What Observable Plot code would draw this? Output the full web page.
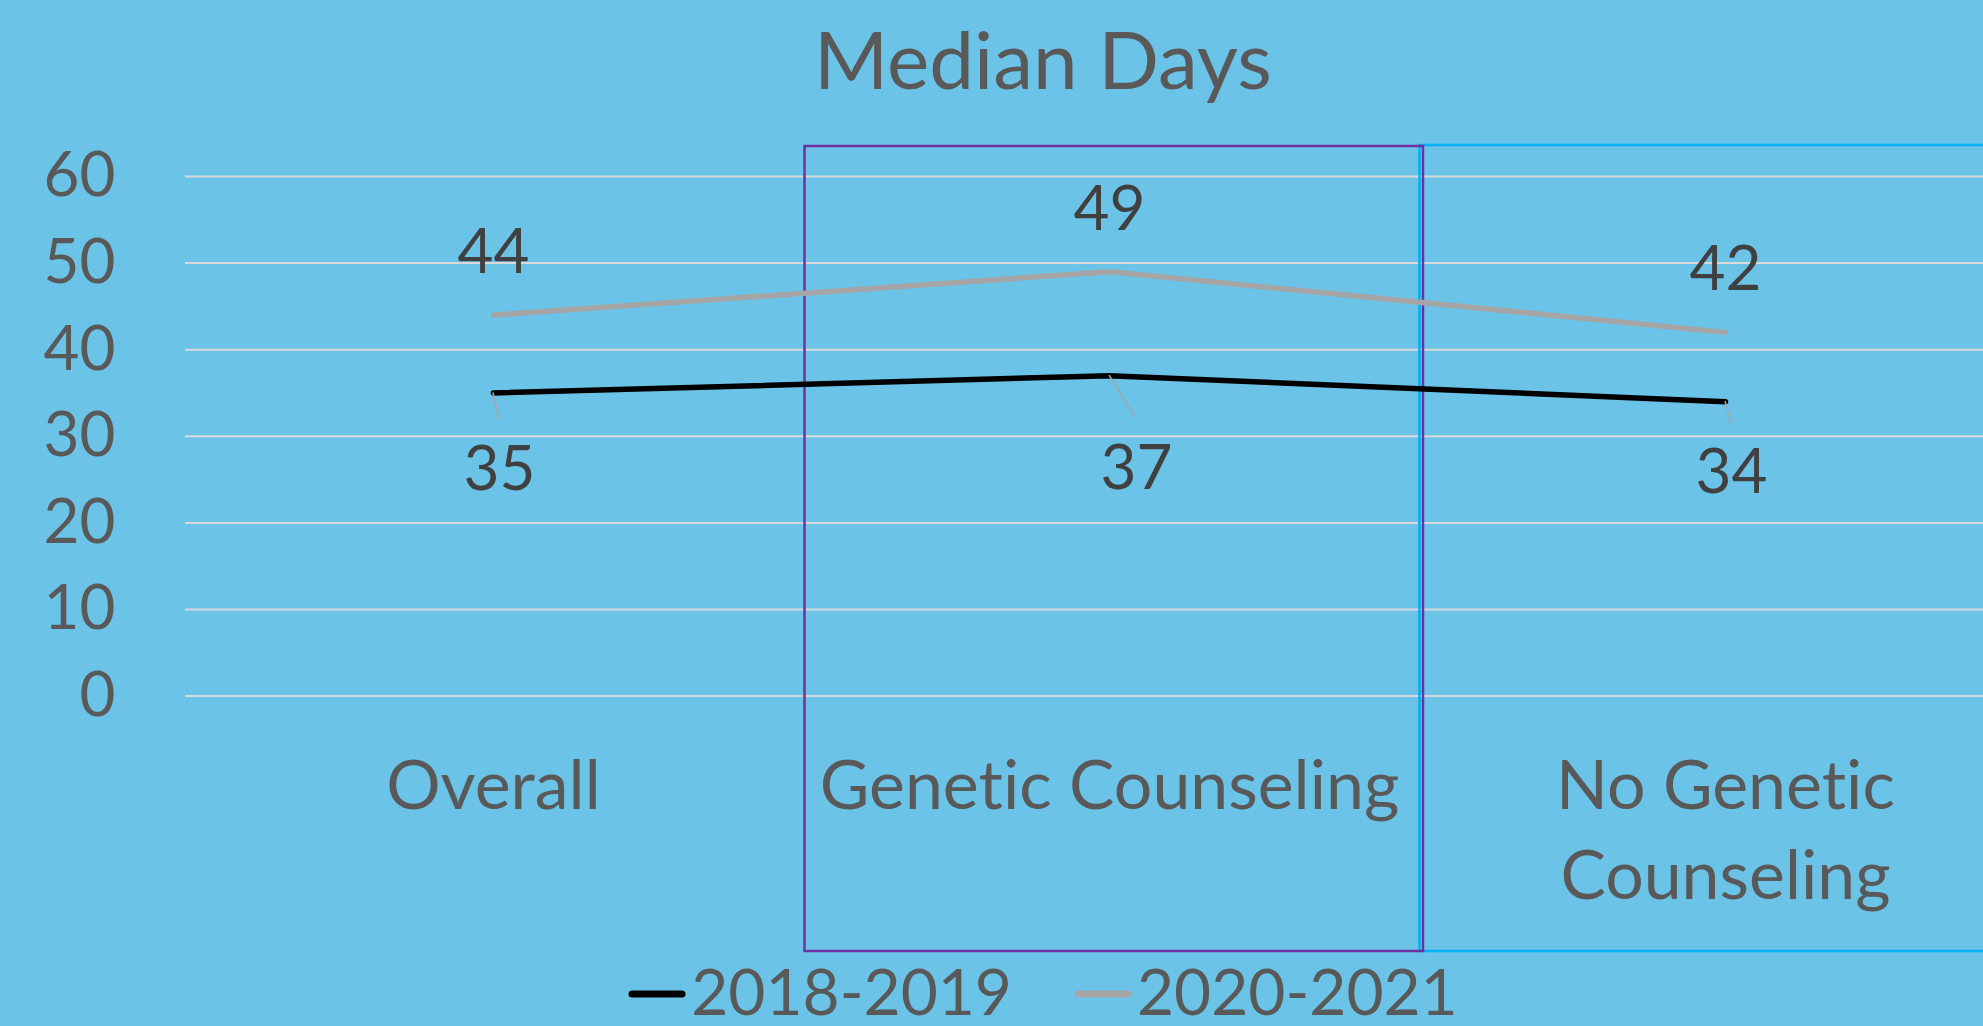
<!DOCTYPE html>
<html>
<head>
<meta charset="utf-8">
<script src="https://cdn.jsdelivr.net/npm/d3@7"></script>
<script src="https://cdn.jsdelivr.net/npm/@observablehq/plot@0.6"></script>
<style>
  html, body { margin: 0; padding: 0; background: #6BC4E8; overflow: hidden; width: 1983px; height: 1026px; }
  #chart { width: 2086px; position: relative; font-family: Lato, "Open Sans", sans-serif; font-variant-ligatures: none; }
  #title { height: 130px; box-sizing: border-box; padding-top: 18px; text-align: center; font-size: 80px; line-height: 80px; font-weight: 400; color: #595959; }
  #plot svg { display: block; overflow: visible; }
  #plot text { font-variant-ligatures: none; }
  #legend { height: 71px; display: flex; justify-content: center; align-items: center; font-size: 64px; line-height: 64px; color: #595959; }
  .item { display: flex; align-items: center; }
  .item svg { display: block; margin-top: 6px; }
  .gap { width: 62px; }
</style>
</head>
<body>
<div id="chart">
  <div id="title">Median Days</div>
  <div id="plot"></div>
  <div id="legend"></div>
</div>
<script>
// ---- data ----
const categories = ["Overall", "Genetic Counseling", "No Genetic Counseling"];
const categoryLabels = ["Overall", "Genetic Counseling", "No Genetic\nCounseling"];
const seriesNames = ["2018-2019", "2020-2021"];
const values2018 = [35, 37, 34];
const values2020 = [44, 49, 42];
const seriesColors = ["#000000", "#A5A5A5"];
const yTicks = [0, 10, 20, 30, 40, 50, 60];
const highlightCategories = ["Genetic Counseling", "No Genetic Counseling"];
const highlightColors = ["#7030A0", "#00B0F0"];

// ---- derived tables ----
const rows2018 = categories.map((c, i) => ({category: c, series: seriesNames[0], value: values2018[i]}));
const rows2020 = categories.map((c, i) => ({category: c, series: seriesNames[1], value: values2020[i]}));
const rows = [...rows2020, ...rows2018];

// label offsets (style) for the lower series, per category
const lowerOffsets = {"Overall": [6, 77], "Genetic Counseling": [27, 93], "No Genetic Counseling": [6, 71]};

function bandwidthOf(x) {
  return typeof x.bandwidth === "function" ? x.bandwidth() : (x.bandwidth || 0);
}

// highlight boxes drawn from the x band scale
function boxesMark(index, scales, values, dims) {
  const x = scales.x, bw = bandwidthOf(x);
  const g = d3.create("svg:g").attr("fill", "none").attr("stroke-width", 2.5);
  const top = dims.marginTop - 30, bottom = dims.height - 4;
  const nx = x(highlightCategories[1]);
  g.append("rect").attr("x", nx + 2.5).attr("y", top - 1)
    .attr("width", bw + 200).attr("height", bottom - top + 1)
    .attr("stroke", highlightColors[1]);
  const gx = x(highlightCategories[0]);
  g.append("rect").attr("x", gx + 3.5).attr("y", top)
    .attr("width", bw + 2.5).attr("height", bottom - top)
    .attr("stroke", highlightColors[0]);
  return g.node();
}

// leader lines from lower series points to their labels
function leadersMark(index, scales) {
  const x = scales.x, y = scales.y, bw = bandwidthOf(x);
  const g = d3.create("svg:g").attr("stroke", "#A6A6A6").attr("stroke-width", 1.6);
  rows2018.forEach(d => {
    const [ox, oy] = lowerOffsets[d.category];
    const x0 = x(d.category) + bw / 2, y0 = y(d.value);
    g.append("line").attr("x1", x0).attr("y1", y0).attr("x2", x0 + ox).attr("y2", y0 + oy - 50);
  });
  return g.node();
}

const W = 2086, H = 825;
const lowerLabelMarks = categories.map(c => {
  const [ox, oy] = lowerOffsets[c];
  return Plot.text(rows2018.filter(d => d.category === c), {
    x: "category", y: "value", text: d => String(d.value),
    dx: ox, dy: oy, fill: "#404040", fontSize: 62
  });
});

const plot = Plot.plot({
  width: W,
  height: H,
  marginLeft: 185,
  marginRight: 53,
  marginTop: 46,
  marginBottom: 259.4,
  style: {background: "transparent", fontFamily: "Lato, 'Open Sans', sans-serif", fontSize: "62px", color: "#595959", overflow: "visible"},
  x: {type: "band", domain: categories, padding: 0, axis: null},
  y: {domain: [0, 60], ticks: yTicks, tickSize: 0, tickPadding: 70, label: null},
  color: {domain: seriesNames, range: seriesColors},
  marks: [
    Plot.ruleY(yTicks, {stroke: "#D9D9D9", strokeWidth: 2}),
    boxesMark,
    Plot.line(rows, {x: "category", y: "value", z: "series", stroke: "series", strokeWidth: 5.5, strokeLinecap: "round", strokeLinejoin: "round"}),
    leadersMark,
    Plot.text(rows2020, {x: "category", y: "value", text: d => String(d.value), dy: -62, fill: "#404040", fontSize: 62}),
    ...lowerLabelMarks,
    Plot.text(categories, {
      x: d => d, text: (d, i) => categoryLabels[i],
      frameAnchor: "bottom", lineAnchor: "top", lineHeight: 1.32, dy: 49.6,
      fontSize: 68, fill: "#595959"
    })
  ]
});
document.getElementById("plot").appendChild(plot);

// ---- legend ----
const legend = document.getElementById("legend");
seriesNames.forEach((name, i) => {
  if (i > 0) { const gap = document.createElement("div"); gap.className = "gap"; legend.appendChild(gap); }
  const item = document.createElement("div");
  item.className = "item";
  item.innerHTML = `<svg width="58" height="12"><line x1="4" y1="6" x2="54" y2="6" stroke="${seriesColors[i]}" stroke-width="7" stroke-linecap="round"/></svg><span style="margin-left:5px">${name}</span>`;
  legend.appendChild(item);
});
</script>
</body>
</html>
